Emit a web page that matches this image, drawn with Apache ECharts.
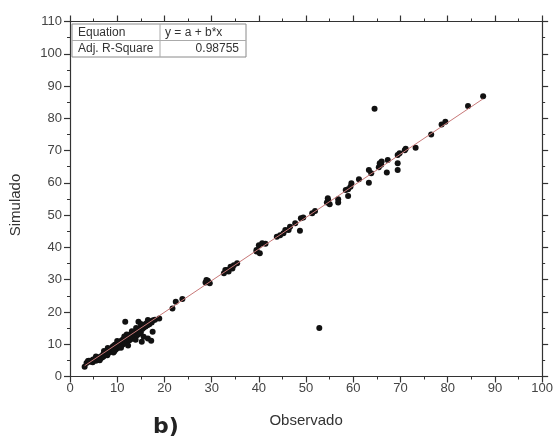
<!DOCTYPE html>
<html>
<head>
<meta charset="utf-8">
<script src="https://cdn.jsdelivr.net/npm/echarts@6/dist/echarts.min.js"></script>
<style>html,body{margin:0;padding:0;background:#fff;}#c{width:556px;height:439px;}</style>
</head>
<body>
<div id="c"></div>
<script>
// Observed (x) values
const observado = [
 3.1,3.5,3.8,4.2,4.5,4.8,5.0,5.3,5.5,5.8,6.0,6.2,6.4,6.6,6.8,7.0,7.1,7.3,7.5,7.6,7.8,8.0,8.1,8.3,8.4,8.6,8.7,8.9,9.0,9.1,9.2,9.3,9.5,9.6,9.7,9.9,
 10.0,10.1,10.2,10.3,10.4,10.5,10.6,10.7,10.9,11.0,11.1,11.2,11.3,11.4,11.6,11.7,11.8,12.0,12.1,12.2,12.4,12.5,12.6,12.8,12.9,13.0,13.2,13.3,13.4,
 13.6,13.7,13.8,14.0,14.1,14.2,14.4,14.5,14.6,14.8,14.9,15.0,15.2,15.3,15.5,15.6,15.8,16.0,16.2,16.4,16.6,16.8,17.0,17.3,17.6,18.0,18.9,
 11.7,14.5,17.5,15.6,15.2,16.5,17.2,12.3,9.4,6.3,7.9,13.9,10.8,5.5,8.0,10.0,12.0,14.0,15.0,16.5,4.0,4.9,7.2,11.5,13.1,
 21.7,22.4,23.8,28.7,29.2,29.6,28.9,32.6,32.9,33.3,33.6,34.0,34.4,34.7,35.4,39.5,39.5,40.2,40.0,40.7,41.4,
 43.8,44.5,45.2,45.6,46.3,46.6,47.7,48.7,48.9,49.4,51.3,51.9,54.4,54.6,54.7,55.0,56.8,56.8,58.4,58.9,58.9,59.4,59.6,
 61.2,63.3,63.3,63.8,64.5,65.6,65.9,65.4,66.0,67.3,67.1,69.4,69.4,69.4,69.8,70.9,71.1,73.2,76.5,78.7,79.5,84.3,87.5,52.8
];
// Simulated (y) values
const simulado = [
 3.0,4.2,4.8,4.6,4.9,4.4,5.1,5.4,4.9,5.6,5.2,6.0,5.6,6.3,5.9,6.8,6.2,7.2,6.7,7.5,7.0,7.9,7.3,8.2,7.6,8.6,7.8,8.9,8.2,9.4,7.4,8.7,9.8,9.0,8.4,10.1,
 9.4,8.8,10.5,9.8,9.1,10.8,10.1,9.5,11.1,10.4,9.8,11.5,10.8,10.2,11.8,11.1,10.5,12.2,11.5,10.9,12.6,11.9,11.2,13.0,12.3,11.6,13.4,12.7,12.0,
 13.8,13.1,12.4,14.2,13.5,12.8,14.6,13.9,13.2,15.0,14.3,13.6,15.4,14.7,15.8,15.1,16.1,15.5,16.5,15.9,16.8,16.2,17.1,16.7,17.4,17.6,18.0,
 17.0,17.0,13.9,12.3,10.8,11.8,11.1,9.6,7.8,5.0,6.6,11.4,8.9,6.2,8.8,11.0,13.0,15.0,16.3,17.5,4.9,5.3,7.9,12.4,14.0,
 21.1,23.2,24.0,29.1,29.7,28.9,29.9,32.0,33.0,33.0,32.5,34.0,33.5,34.5,35.1,38.7,39.2,38.2,40.7,41.3,41.1,
 43.3,43.8,44.4,45.4,45.4,46.4,47.5,45.2,49.0,49.3,50.6,51.3,53.9,55.2,54.6,53.4,54.9,53.9,57.8,58.0,55.9,58.8,59.9,
 61.1,60.0,64.0,63.0,83.0,66.1,65.6,64.8,66.6,67.1,63.2,68.6,66.1,64.0,69.2,70.1,70.6,70.9,75.0,78.1,78.9,83.8,86.8,15.0
];
// Linear fit y = a + b*x
const fitA = [0.3];
const fitB = [0.98];
const fitRangeX = [3.1, 87.5];
const xTicks = [0,10,20,30,40,50,60,70,80,90,100];
const yTicks = [0,10,20,30,40,50,60,70,80,90,100,110];
const tableRows = [["Equation","y = a + b*x"],["Adj. R-Square","0.98755"]];

const pts = observado.map((x,i)=>[x, simulado[i]]);
const fitLine = fitRangeX.map(x=>[x, fitA[0] + fitB[0]*x]);

const axisColor = '#333';
const fontFam = 'Liberation Sans, Arial, sans-serif';
const chart = echarts.init(document.getElementById('c'), null, {renderer:'canvas'});

const baseX = {
  type:'value', min:xTicks[0], max:xTicks[xTicks.length-1], interval:10,
  axisLine:{show:true, onZero:false, lineStyle:{color:axisColor, width:1.2}},
  axisTick:{show:true, inside:false, length:6, lineStyle:{color:axisColor, width:1.2}},
  minorTick:{show:true, splitNumber:2, length:3, lineStyle:{color:axisColor, width:1}},
  splitLine:{show:false}
};
const baseY = {
  type:'value', min:yTicks[0], max:yTicks[yTicks.length-1], interval:10,
  axisLine:{show:true, onZero:false, lineStyle:{color:axisColor, width:1.2}},
  axisTick:{show:true, inside:false, length:6, lineStyle:{color:axisColor, width:1.2}},
  minorTick:{show:true, splitNumber:2, length:3, lineStyle:{color:axisColor, width:1}},
  splitLine:{show:false}
};

const tbl = {left:72, top:24, w:174, h:33, col:88};
const gElems = [
  {type:'rect', shape:{x:tbl.left, y:tbl.top, width:tbl.w, height:tbl.h}, style:{fill:'#fff', stroke:'#8a8a8a', lineWidth:1}, z:100},
  {type:'line', shape:{x1:tbl.left, y1:tbl.top+tbl.h/2, x2:tbl.left+tbl.w, y2:tbl.top+tbl.h/2}, style:{stroke:'#aaa', lineWidth:1}, z:101},
  {type:'line', shape:{x1:tbl.left+tbl.col, y1:tbl.top, x2:tbl.left+tbl.col, y2:tbl.top+tbl.h}, style:{stroke:'#aaa', lineWidth:1}, z:101}
];
tableRows.forEach((r,i)=>{
  const cy = tbl.top + tbl.h/4 + i*tbl.h/2;
  gElems.push({type:'text', x:tbl.left+6, y:cy, style:{text:r[0], fill:'#333', font:'12px '+fontFam, verticalAlign:'middle'}, z:102});
  if(i===0){
    gElems.push({type:'text', x:tbl.left+tbl.col+5, y:cy, style:{text:r[1], fill:'#333', font:'12px '+fontFam, verticalAlign:'middle'}, z:102});
  } else {
    gElems.push({type:'text', x:tbl.left+tbl.w-7, y:cy, style:{text:r[1], fill:'#333', font:'12px '+fontFam, align:'right', verticalAlign:'middle'}, z:102});
  }
});

chart.setOption({
  backgroundColor:'#fff',
  animation:false,
  title:{text:'b)', left:148, top:411, textStyle:{fontFamily:'DejaVu Sans', fontWeight:'bold', fontSize:22, color:'#222'}},
  grid:{left:68.5, right:12.5, top:21.5, bottom:62.5, containLabel:false},
  xAxis:[
    Object.assign({}, baseX, {position:'bottom', name:'Observado', nameLocation:'middle', nameGap:37,
      nameTextStyle:{fontSize:15, color:'#333', fontFamily:fontFam},
      axisLabel:{fontSize:13, color:'#444', margin:5, fontFamily:fontFam}}),
    Object.assign({}, baseX, {position:'top', axisLabel:{show:false}})
  ],
  yAxis:[
    Object.assign({}, baseY, {position:'left', name:'Simulado', nameLocation:'middle', nameGap:47,
      nameTextStyle:{fontSize:15, color:'#333', fontFamily:fontFam, padding:[0,12,0,0]},
      axisLabel:{fontSize:13, color:'#444', margin:8, fontFamily:fontFam}}),
    Object.assign({}, baseY, {position:'right', axisLabel:{show:false}})
  ],
  graphic: gElems,
  series:[
    {type:'scatter', xAxisIndex:0, yAxisIndex:0, data:pts, symbol:'circle', symbolSize:6,
      itemStyle:{color:'#111', opacity:1}, z:2},
    {type:'line', xAxisIndex:0, yAxisIndex:0, data:fitLine, showSymbol:false, symbol:'none',
      lineStyle:{color:'#c87878', width:1}, z:3}
  ]
});
</script>
</body>
</html>
